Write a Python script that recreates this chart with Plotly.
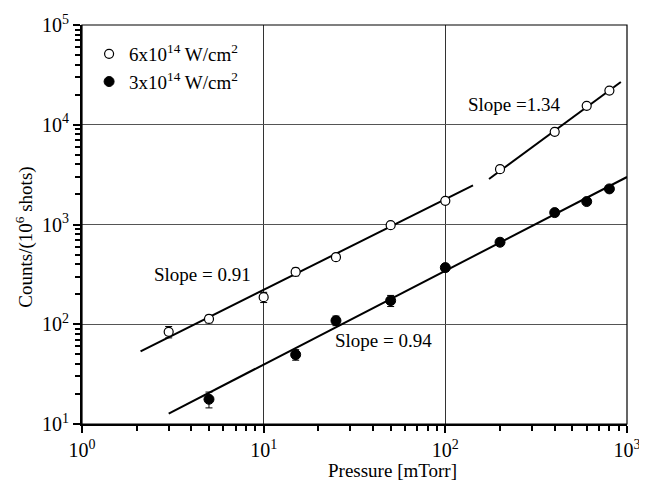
import numpy as np
import plotly.graph_objects as go

# ---------------- data ----------------
pressure_hi = [3, 5, 10, 15, 25, 50, 100, 200, 400, 600, 800]
counts_hi = [84, 113, 187, 335, 470, 984, 1726, 3590, 8490, 15480, 22030]
err_hi = [11, 10, 22, 30, 35, 60, 90, 250, 450, 800, 1100]

pressure_lo = [5, 15, 25, 50, 100, 200, 400, 600, 800]
counts_lo = [17.7, 49.6, 108.7, 172.5, 369.6, 664, 1316, 1698, 2275]
err_lo = [3.2, 6, 12, 22, 30, 50, 100, 100, 120]

# power-law fits: y = A * x^slope
fit_slope = [0.91, 1.34, 0.94]
fit_coef = [27.2, 2.844, 4.53]
fit_xmin = [2.1, 174, 3.0]
fit_xmax = [142, 925, 1000]
fit_label = ["Slope = 0.91", "Slope =1.34", "Slope = 0.94"]

legend_names = ["6x10<sup>14</sup> W/cm<sup>2</sup>", "3x10<sup>14</sup> W/cm<sup>2</sup>"]

x_tickvals = [1, 10, 100, 1000]
x_ticktext = ["10<sup>0</sup>", "10<sup>1</sup>", "10<sup>2</sup>", "10<sup>3</sup>"]
y_tickvals = [10, 100, 1000, 10000, 100000]
y_ticktext = ["10<sup>1</sup>", "10<sup>2</sup>", "10<sup>3</sup>", "10<sup>4</sup>", "10<sup>5</sup>"]

FONT = "Liberation Serif, Times New Roman, serif"

fig = go.Figure()

# fit lines
for s, a, x0, x1 in zip(fit_slope, fit_coef, fit_xmin, fit_xmax):
    xs = np.geomspace(x0, x1, 20)
    fig.add_trace(go.Scatter(x=xs, y=a * xs ** s, mode="lines",
                             line=dict(color="black", width=2),
                             showlegend=False, hoverinfo="skip"))

fig.add_trace(go.Scatter(
    x=pressure_hi, y=counts_hi, mode="markers", name=legend_names[0],
    marker=dict(symbol="circle", size=9, color="white",
                line=dict(color="black", width=1.2)),
    error_y=dict(type="data", array=err_hi, color="black", thickness=1, width=3.5),
))
fig.add_trace(go.Scatter(
    x=pressure_lo, y=counts_lo, mode="markers", name=legend_names[1],
    marker=dict(symbol="circle", size=10, color="black",
                line=dict(color="black", width=1)),
    error_y=dict(type="data", array=err_lo, color="black", thickness=1, width=3.5),
))

minor_x = [k * 10 ** n for n in range(0, 3) for k in range(2, 10)]
minor_y = [k * 10 ** n for n in range(1, 5) for k in range(2, 10)]

fig.update_xaxes(
    type="log", range=[0, 3], automargin=False,
    tickmode="array", tickvals=x_tickvals, ticktext=x_ticktext,
    ticks="outside", ticklen=7, tickwidth=1.5, tickcolor="black",
    showline=True, linecolor="black", linewidth=2,
    showgrid=True, gridcolor="#333333", gridwidth=1,
    zeroline=False,
    minor=dict(tickmode="array", tickvals=minor_x, ticks="outside",
               ticklen=5, tickwidth=1.5, tickcolor="black", showgrid=False),
    tickfont=dict(family=FONT, size=20, color="black"),
)
fig.update_yaxes(
    type="log", range=[1, 5], automargin=False,
    tickmode="array", tickvals=y_tickvals, ticktext=y_ticktext,
    ticks="outside", ticklen=7, tickwidth=1.5, tickcolor="black",
    showline=True, linecolor="black", linewidth=2,
    showgrid=True, gridcolor="#555555", gridwidth=1,
    zeroline=False,
    minor=dict(tickmode="array", tickvals=minor_y, ticks="outside",
               ticklen=5, tickwidth=1.5, tickcolor="black", showgrid=False),
    tickfont=dict(family=FONT, size=20, color="black"),
)

annotations = [
    dict(x=np.log10(4.63), y=np.log10(312), xref="x", yref="y",
         text=fit_label[0], showarrow=False, xanchor="center", yanchor="middle"),
    dict(x=np.log10(130), y=np.log10(15850), xref="x", yref="y",
         text=fit_label[1], showarrow=False, xanchor="left", yanchor="middle"),
    dict(x=np.log10(24.1), y=np.log10(68), xref="x", yref="y",
         text=fit_label[2], showarrow=False, xanchor="left", yanchor="middle"),
    dict(x=0.569, y=-0.116, xref="paper", yref="paper",
         text="Pressure [mTorr]", showarrow=False, xanchor="center", yanchor="middle"),
    dict(x=-0.105, y=0.469, xref="paper", yref="paper", textangle=-90,
         text="Counts/(10<sup>6</sup> shots)", showarrow=False,
         xanchor="center", yanchor="middle"),
]
for a in annotations:
    a["font"] = dict(family=FONT, size=19, color="black")

fig.update_layout(
    width=639, height=473,
    margin=dict(l=74, r=20, t=17, b=57, autoexpand=False),
    paper_bgcolor="white", plot_bgcolor="white",
    font=dict(family=FONT, size=19, color="black"),
    annotations=annotations,
    showlegend=True,
    legend=dict(x=0.013, y=0.975, xanchor="left", yanchor="top",
                bgcolor="rgba(0,0,0,0)", borderwidth=0,
                font=dict(family=FONT, size=19, color="black"),
                itemwidth=30, tracegroupgap=0),
    shapes=[dict(type="rect", xref="paper", yref="paper", x0=0, x1=1, y0=0, y1=1,
                 line=dict(color="black", width=1.2), layer="above")],
)

fig.write_html("out.html")
